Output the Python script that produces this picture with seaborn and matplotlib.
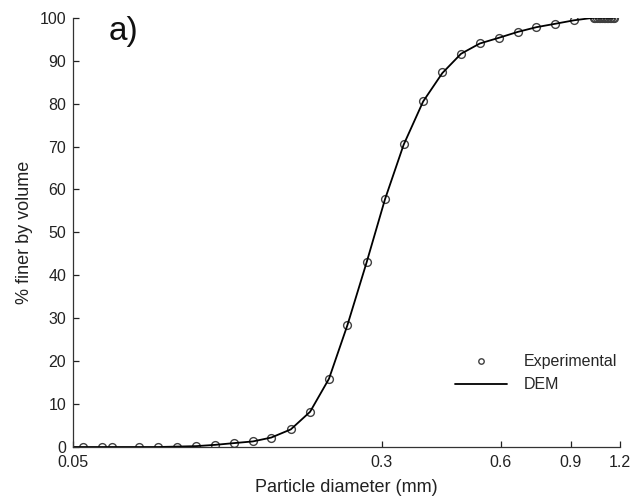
import numpy as np
import pandas as pd
import matplotlib
matplotlib.use("Agg")
import matplotlib.pyplot as plt
import seaborn as sns

# Experimental sieve data (particle diameter in mm, % finer by volume)
exp_diam = [0.0528, 0.0590, 0.0628, 0.0733, 0.0818, 0.0914, 0.102, 0.114,
            0.127, 0.142, 0.158, 0.177, 0.198, 0.221, 0.246, 0.275, 0.306,
            0.341, 0.382, 0.427, 0.476, 0.531, 0.592, 0.662, 0.738, 0.824,
            0.918, 1.030, 1.040, 1.050, 1.060, 1.070, 1.080, 1.090, 1.100,
            1.110, 1.120, 1.130, 1.140, 1.150, 1.160]
exp_finer = [0.0, 0.0, 0.0, 0.0, 0.0, 0.1, 0.2, 0.5,
             0.9, 1.3, 2.2, 4.1, 8.2, 15.9, 28.4, 43.0, 57.7,
             70.6, 80.7, 87.3, 91.6, 94.0, 95.3, 96.7, 97.8, 98.6,
             99.4, 100.0, 100.0, 100.0, 100.0, 100.0, 100.0, 100.0, 100.0,
             100.0, 100.0, 100.0, 100.0, 100.0, 100.0]

# DEM curve
dem_diam = [0.050, 0.0528, 0.0590, 0.0628, 0.0733, 0.0818, 0.0914, 0.102,
            0.114, 0.127, 0.142, 0.158, 0.177, 0.198, 0.221, 0.246, 0.275,
            0.306, 0.341, 0.382, 0.427, 0.476, 0.531, 0.592, 0.662, 0.738,
            0.824, 0.918, 1.030, 1.160]
dem_finer = [0.0, 0.0, 0.0, 0.0, 0.0, 0.0, 0.1, 0.2,
             0.5, 0.9, 1.3, 2.2, 4.1, 8.2, 15.9, 28.4, 43.0,
             57.7, 70.4, 80.5, 87.1, 91.6, 94.0, 95.3, 96.7, 97.8,
             98.6, 99.4, 100.0, 100.0]

x_ticks = [0.05, 0.3, 0.6, 0.9, 1.2]
x_tick_labels = ["0.05", "0.3", "0.6", "0.9", "1.2"]
y_ticks = list(range(0, 101, 10))

sns.set_style("ticks")
plt.rcParams["font.family"] = ["Liberation Sans", "DejaVu Sans"]

fig = plt.figure(figsize=(6.3, 4.98), dpi=100)
ax = fig.add_axes([0.1163, 0.1024, 0.868, 0.862])

exp_df = pd.DataFrame({"d": exp_diam, "p": exp_finer})
dem_df = pd.DataFrame({"d": dem_diam, "p": dem_finer})

sns.lineplot(data=exp_df, x="d", y="p", ax=ax, estimator=None, sort=False,
             linestyle="", marker="o", markersize=5.6,
             markerfacecolor="none", markeredgecolor="#404040",
             markeredgewidth=1.0, label="Experimental")
sns.lineplot(data=dem_df, x="d", y="p", ax=ax, estimator=None, sort=False,
             color="black", linewidth=1.3, label="DEM")

ax.set_xscale("log")
ax.set_xlim(0.05, 1.2)
ax.set_ylim(0, 100)
ax.set_xticks(x_ticks)
ax.set_xticklabels(x_tick_labels)
ax.xaxis.set_minor_locator(matplotlib.ticker.NullLocator())
ax.set_yticks(y_ticks)

ax.tick_params(axis="both", direction="in", length=4, width=0.9,
               labelsize=11.5, colors="#222222")
ax.tick_params(axis="y", pad=5)
ax.tick_params(axis="x", pad=6)
ax.set_xlabel("Particle diameter (mm)", fontsize=13, labelpad=6, color="#222222")
ax.set_ylabel("% finer by volume", fontsize=13, labelpad=5, color="#222222")

sns.despine(ax=ax)
for s in ["left", "bottom"]:
    ax.spines[s].set_linewidth(0.9)
    ax.spines[s].set_color("#333333")

ax.text(0.064, 0.967, "a)", transform=ax.transAxes, fontsize=24,
        ha="left", va="center", color="#111111")

leg = ax.legend(loc="lower right", bbox_to_anchor=(1.02, 0.094), frameon=False,
                fontsize=11.5, handlelength=3.3, handletextpad=1.0,
                labelspacing=0.5, markerscale=0.7)

fig.savefig("out.png", dpi=100)
